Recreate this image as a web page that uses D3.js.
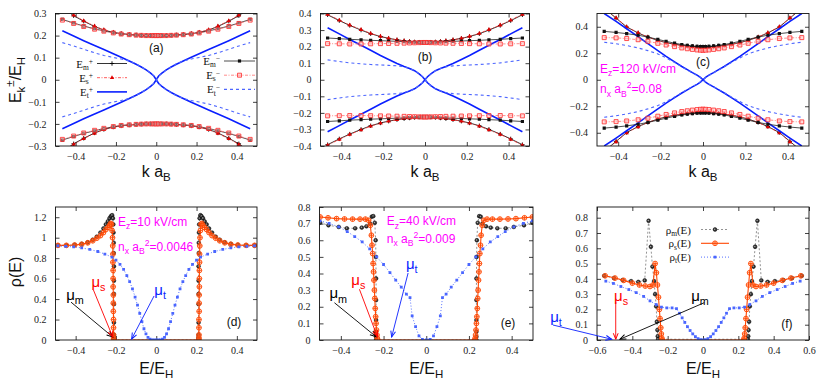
<!DOCTYPE html>
<html>
<head>
<meta charset="utf-8">
<script src="https://cdn.jsdelivr.net/npm/d3@7/dist/d3.min.js"></script>
<style>
  html,body{margin:0;padding:0;background:#fff;}
  svg{display:block;}
  text{font-family:"Liberation Sans",Arial,sans-serif;white-space:pre;}
  .tick text{font-family:"Liberation Serif","Times New Roman",serif;font-size:10px;fill:#222;}
  .serif{font-family:"Liberation Serif","Times New Roman",serif;}
</style>
</head>
<body>
<svg id="fig" width="830" height="388" xmlns="http://www.w3.org/2000/svg"></svg>
<script>
// ================= DATA =================
// Top row: dispersion E_k^± / E_H versus k a_B (values for k >= 0; curves are symmetric in k and ±E)
const kGrid = [0, 0.012, 0.028, 0.05, 0.074, 0.1, 0.134, 0.174, 0.213, 0.26, 0.306, 0.36, 0.41, 0.466];

// panel (a)
const aEmPlus  = [0.2,0.2,0.2,0.2,0.201,0.203,0.205,0.209,0.214,0.225,0.241,0.265,0.29,0.327];
const aEsPlus  = [0.2,0.2,0.2,0.2,0.201,0.203,0.205,0.209,0.215,0.226,0.243,0.267,0.293,0.33];
const aEtPlus  = [0,0.017,0.03,0.045,0.058,0.07,0.085,0.102,0.118,0.137,0.155,0.177,0.198,0.222];
const aEmMinus = [0.2,0.2,0.2,0.2,0.201,0.202,0.204,0.207,0.213,0.221,0.231,0.243,0.257,0.273];
const aEsMinus = [0.2,0.2,0.2,0.2,0.201,0.202,0.204,0.207,0.212,0.22,0.229,0.241,0.255,0.27];
const aEtMinus = [0,0.017,0.03,0.045,0.058,0.072,0.085,0.094,0.101,0.11,0.122,0.138,0.153,0.168];
// panel (b)
const bEmPlus  = [0.225,0.225,0.226,0.228,0.231,0.235,0.241,0.25,0.261,0.278,0.3,0.328,0.357,0.392];
const bEsPlus  = [0.225,0.225,0.226,0.228,0.231,0.235,0.241,0.25,0.262,0.28,0.303,0.33,0.36,0.395];
const bEtPlus  = [0,0.018,0.036,0.055,0.068,0.08,0.098,0.122,0.146,0.178,0.208,0.243,0.277,0.314];
const bEmMinus = [0.226,0.226,0.227,0.228,0.229,0.23,0.232,0.234,0.236,0.238,0.241,0.244,0.248,0.252];
const bEsMinus = [0.225,0.225,0.224,0.223,0.222,0.221,0.22,0.219,0.218,0.217,0.216,0.216,0.217,0.218];
const bEtMinus = [0,0.018,0.036,0.055,0.068,0.078,0.084,0.087,0.089,0.092,0.096,0.102,0.11,0.12];
// panel (c)
const cEmPlus  = [0.248,0.248,0.249,0.251,0.255,0.26,0.268,0.28,0.297,0.322,0.353,0.398,0.465,0.54];
const cEsPlus  = [0.245,0.245,0.246,0.249,0.253,0.258,0.266,0.279,0.297,0.323,0.355,0.4,0.468,0.545];
const cEtPlus  = [0,0.018,0.035,0.054,0.076,0.1,0.135,0.176,0.22,0.272,0.325,0.385,0.44,0.5];
const cEmMinus = [0.25,0.25,0.252,0.255,0.26,0.266,0.276,0.29,0.305,0.322,0.336,0.348,0.357,0.365];
const cEsMinus = [0.222,0.223,0.225,0.229,0.234,0.24,0.25,0.262,0.275,0.29,0.302,0.311,0.316,0.318];
const cEtMinus = [0,0.015,0.032,0.052,0.073,0.098,0.13,0.165,0.195,0.22,0.24,0.258,0.272,0.283];

// Bottom row: density of states rho(E) versus E/E_H (E <= 0 half; mirrored to E > 0)
// panel (d)
const dMe = [-0.488,-0.446,-0.405,-0.37,-0.34,-0.315,-0.295,-0.277,-0.262,-0.25,-0.24,-0.232,-0.225,-0.219,-0.215,-0.213,-0.212,-0.211,-0.211,-0.21,-0.21,-0.21,-0.21,-0.21,-0.21,-0.21,-0.21];
const dMr = [0.925,0.925,0.93,0.94,0.955,0.98,1.01,1.05,1.09,1.13,1.16,1.19,1.21,1.22,1.19,1.13,1.05,0.95,0.85,0.72,0.58,0.45,0.35,0.17,0.05,0.02,0];
const dSe = [-0.488,-0.446,-0.405,-0.37,-0.34,-0.315,-0.295,-0.277,-0.262,-0.25,-0.24,-0.232,-0.226,-0.222,-0.219,-0.217,-0.216,-0.215,-0.215,-0.214,-0.214,-0.214,-0.213,-0.213,-0.213,-0.212,-0.212,-0.212,-0.212,-0.212];
const dSr = [0.925,0.925,0.928,0.935,0.95,0.97,0.995,1.02,1.05,1.08,1.1,1.12,1.14,1.13,1.07,1.0,0.92,0.84,0.76,0.68,0.6,0.52,0.44,0.36,0.28,0.2,0.12,0.05,0.02,0];
const dTe = [-0.488,-0.45,-0.41,-0.37,-0.33,-0.29,-0.255,-0.22,-0.2,-0.18,-0.162,-0.146,-0.132,-0.118,-0.105,-0.093,-0.082,-0.071,-0.061,-0.051,-0.041,-0.031,-0.021,-0.011,0];
const dTr = [0.92,0.915,0.91,0.9,0.885,0.865,0.84,0.81,0.78,0.74,0.69,0.63,0.57,0.5,0.42,0.34,0.26,0.18,0.11,0.06,0.025,0.008,0.002,0,0];
// panel (e)
const eMe = [-0.497,-0.458,-0.41,-0.372,-0.333,-0.302,-0.28,-0.263,-0.255,-0.248,-0.241,-0.237,-0.236,-0.235,-0.235,-0.235,-0.235,-0.235,-0.235];
const eMr = [0.706,0.69,0.68,0.672,0.672,0.676,0.684,0.7,0.742,0.745,0.705,0.6,0.5,0.37,0.24,0.12,0.05,0.02,0];
const eSe = [-0.497,-0.46,-0.42,-0.383,-0.345,-0.31,-0.285,-0.27,-0.262,-0.257,-0.254,-0.251,-0.249,-0.247,-0.245,-0.243,-0.241,-0.239,-0.237,-0.235,-0.233,-0.231,-0.229,-0.228];
const eSr = [0.74,0.735,0.73,0.728,0.727,0.727,0.727,0.72,0.69,0.63,0.57,0.52,0.46,0.41,0.36,0.3,0.25,0.19,0.14,0.1,0.06,0.03,0.01,0];
const eTe = [-0.497,-0.455,-0.41,-0.37,-0.335,-0.3,-0.265,-0.232,-0.2,-0.17,-0.143,-0.117,-0.093,-0.076,-0.066,-0.05,-0.034,-0.018,0];
const eTr = [0.716,0.702,0.68,0.652,0.622,0.59,0.548,0.5,0.454,0.405,0.36,0.318,0.276,0.255,0.145,0.08,0.025,0.004,0];
// panel (f)
const fMe = [-0.559,-0.504,-0.455,-0.407,-0.366,-0.33,-0.308,-0.295,-0.286,-0.277,-0.271,-0.265,-0.261,-0.258,-0.256,-0.254];
const fMr = [0.42,0.405,0.392,0.385,0.38,0.39,0.78,0.61,0.48,0.385,0.3,0.22,0.12,0.065,0.025,0.005];
const fSe = [-0.554,-0.498,-0.449,-0.4,-0.36,-0.327,-0.3,-0.283,-0.271,-0.264,-0.258,-0.252,-0.247,-0.243,-0.239,-0.236,-0.233,-0.231];
const fSr = [0.42,0.405,0.39,0.372,0.36,0.353,0.35,0.36,0.5,0.44,0.36,0.28,0.2,0.14,0.08,0.04,0.012,0];
const fTe = [-0.55,-0.507,-0.465,-0.42,-0.378,-0.336,-0.3,-0.265,-0.235,-0.205,-0.175,-0.15,-0.133,-0.118,-0.103,-0.088,-0.073,-0.058,-0.043,-0.028,-0.013,0];
const fTr = [0.385,0.37,0.35,0.33,0.31,0.285,0.256,0.232,0.215,0.21,0.21,0.205,0.175,0.145,0.115,0.087,0.062,0.04,0.022,0.009,0.002,0];

// tick values
const xTicksK   = [-0.4,-0.2,0,0.2,0.4];
const yTicksA   = [-0.3,-0.2,-0.1,0,0.1,0.2,0.3];
const yTicksB   = [-0.4,-0.3,-0.2,-0.1,0,0.1,0.2,0.3,0.4];
const yTicksC   = [-0.4,-0.2,0,0.2,0.4];
const xTicksDE  = [-0.4,-0.2,0,0.2,0.4];
const xTicksF   = [-0.6,-0.4,-0.2,0,0.2,0.4,0.6];
const yTicksD   = [0,0.2,0.4,0.6,0.8,1,1.2];
const yTicksEF  = [0,0.1,0.2,0.3,0.4,0.5,0.6,0.7,0.8];

// ================= DRAWING =================
const svg = d3.select('#fig');
const defs = svg.append('defs');
const fmt = v => Math.abs(v) < 1e-9 ? '0' : d3.format('')(+v.toFixed(2));

function rich(parent, parts, size, subOff = 0.28, supOff = 0.42, small = 0.72) {
  const t = parent.append('text').attr('font-size', size);
  let cur = 0;
  for (const [s, m] of parts) {
    const off = m === 'sub' ? subOff * size : (m === 'sup' ? -supOff * size : 0);
    t.append('tspan').attr('dy', (off - cur).toFixed(2))
      .attr('font-size', m === 'n' ? size : (small * size).toFixed(2)).text(s);
    cur = off;
  }
  return t;
}

function makePanel(id, box, xd, yd, xt, yt) {
  const x = d3.scaleLinear().domain(xd).range([box.x0, box.x1]);
  const y = d3.scaleLinear().domain(yd).range([box.y1, box.y0]);
  const g = svg.append('g').attr('color', '#111');
  defs.append('clipPath').attr('id', 'clip-' + id).append('rect')
    .attr('x', box.x0).attr('y', box.y0).attr('width', box.x1 - box.x0).attr('height', box.y1 - box.y0);
  g.append('g').attr('transform', `translate(0,${box.y1})`)
    .call(d3.axisBottom(x).tickValues(xt).tickSize(-4).tickPadding(7).tickFormat(fmt));
  g.append('g').attr('transform', `translate(0,${box.y0})`)
    .call(d3.axisTop(x).tickValues(xt).tickSize(-4).tickFormat(''));
  g.append('g').attr('transform', `translate(${box.x0},0)`)
    .call(d3.axisLeft(y).tickValues(yt).tickSize(-4).tickPadding(9).tickFormat(fmt));
  g.append('g').attr('transform', `translate(${box.x1},0)`)
    .call(d3.axisRight(y).tickValues(yt).tickSize(-4).tickFormat(''));
  g.selectAll('.domain').remove();
  g.selectAll('.tick line').attr('stroke-width', 0.8);
  const plot = svg.append('g').attr('clip-path', `url(#clip-${id})`);
  svg.append('rect').attr('x', box.x0).attr('y', box.y0).attr('width', box.x1 - box.x0)
    .attr('height', box.y1 - box.y0).attr('fill', 'none').attr('stroke', '#111').attr('stroke-width', 0.9);
  return {x, y, plot, box};
}

function marker(g, type, cx, cy) {
  const t = `translate(${cx.toFixed(2)},${cy.toFixed(2)})`;
  switch (type) {
    case 'plus':
      g.append('path').attr('transform', t).attr('d', 'M-2.2,0H2.2M0,-2.2V2.2').attr('stroke', '#000').attr('stroke-width', 0.9); break;
    case 'tri':
      g.append('path').attr('transform', t).attr('d', 'M0,-2.5L2.2,1.4H-2.2Z').attr('fill', '#e00000'); break;
    case 'sqf':
      g.append('path').attr('transform', t).attr('d', 'M-1.6,-1.6h3.2v3.2h-3.2Z').attr('fill', '#111'); break;
    case 'sqo':
      g.append('path').attr('transform', t).attr('d', 'M-2,-2h4v4h-4Z').attr('fill', 'rgba(255,190,190,0.5)').attr('stroke', '#ff2a2a').attr('stroke-width', 0.8); break;
    case 'circ':
      g.append('circle').attr('cx', cx).attr('cy', cy).attr('r', 1.9).attr('fill', '#333').attr('stroke', '#000').attr('stroke-width', 0.5);
      g.append('circle').attr('cx', cx - 0.3).attr('cy', cy - 0.3).attr('r', 0.7).attr('fill', '#aaa'); break;
    case 'oplus':
      g.append('circle').attr('cx', cx).attr('cy', cy).attr('r', 2.4).attr('fill', 'rgba(255,170,120,0.3)').attr('stroke', '#ff4500').attr('stroke-width', 0.9);
      g.append('path').attr('transform', t).attr('d', 'M-2.4,0H2.4M0,-2.4V2.4').attr('stroke', '#ff4500').attr('stroke-width', 0.8); break;
    case 'sqs':
      g.append('path').attr('transform', t).attr('d', 'M-1.4,-1.4h2.8v2.8h-2.8Z').attr('fill', '#4a66ff'); break;
  }
}

const topStyles = {
  EmPlus:  {stroke: '#000', width: 0.8, dash: null, marker: 'plus'},
  EsPlus:  {stroke: '#ff3030', width: 0.8, dash: '3,1.5,1,1.5', marker: 'tri'},
  EtPlus:  {stroke: '#0a1fff', width: 1.6, dash: null, marker: null},
  EmMinus: {stroke: '#222', width: 0.8, dash: null, marker: 'sqf'},
  EsMinus: {stroke: '#ff7070', width: 0.8, dash: '3,1.5,1,1.5', marker: 'sqo'},
  EtMinus: {stroke: '#4d66ff', width: 1.1, dash: '3,3', marker: null}
};
const dosStyles = {
  m: {stroke: '#777', width: 0.8, dash: '2,2', marker: 'circ'},
  s: {stroke: '#ff4500', width: 1.1, dash: null, marker: 'oplus'},
  t: {stroke: '#5570ff', width: 1, dash: '1,2', marker: 'sqs'}
};

function drawBand(P, vals, st) {
  const ks = kGrid.slice().reverse().map(k => -k).concat(kGrid.slice(1));
  const es = vals.slice().reverse().concat(vals.slice(1));
  [1, -1].forEach(sg => {
    const pts = ks.map((k, i) => [k, sg * es[i]]);
    const p = P.plot.append('path')
      .attr('d', d3.line().x(d => P.x(d[0])).y(d => P.y(d[1]))(pts))
      .attr('fill', 'none').attr('stroke', st.stroke).attr('stroke-width', st.width);
    if (st.dash) p.attr('stroke-dasharray', st.dash);
    if (st.marker) pts.forEach(d => marker(P.plot, st.marker, P.x(d[0]), P.y(d[1])));
  });
}

function drawDos(P, Eh, Rh, st) {
  const E = Eh.slice(), R = Rh.slice();
  for (let i = Eh.length - 1; i >= 0; i--) {
    if (Eh[i] === 0) continue;
    E.push(-Eh[i]); R.push(Rh[i]);
  }
  const pts = E.map((e, i) => [e, R[i]]);
  const p = P.plot.append('path')
    .attr('d', d3.line().x(d => P.x(d[0])).y(d => P.y(d[1]))(pts))
    .attr('fill', 'none').attr('stroke', st.stroke).attr('stroke-width', st.width);
  if (st.dash) p.attr('stroke-dasharray', st.dash);
  pts.forEach(d => marker(P.plot, st.marker, P.x(d[0]), P.y(d[1])));
}

// layout boxes
const boxA = {x0: 55.5, x1: 257, y0: 13.5, y1: 146};
const boxB = {x0: 320.5, x1: 529.5, y0: 13.5, y1: 146};
const boxC = {x0: 597, x1: 809, y0: 13.5, y1: 146};
const boxD = {x0: 55.5, x1: 257, y0: 207, y1: 340};
const boxE = {x0: 319.5, x1: 533, y0: 207, y1: 340};
const boxF = {x0: 597, x1: 809, y0: 207, y1: 340};

const PA = makePanel('a', boxA, [-0.5, 0.5], [-0.3, 0.3], xTicksK, yTicksA);
const PB = makePanel('b', boxB, [-0.5, 0.5], [-0.4, 0.4], xTicksK, yTicksB);
const PC = makePanel('c', boxC, [-0.5, 0.5], [-0.5, 0.5], xTicksK, yTicksC);
const PD = makePanel('d', boxD, [-0.5, 0.5], [0, 1.3], xTicksDE, yTicksD);
const PE = makePanel('e', boxE, [-0.5, 0.5], [0, 0.8], xTicksDE, yTicksEF);
const PF = makePanel('f', boxF, [-0.6, 0.6], [0, 0.87], xTicksF, yTicksEF);

[[PA, [aEmPlus, aEsPlus, aEtPlus, aEmMinus, aEsMinus, aEtMinus]],
 [PB, [bEmPlus, bEsPlus, bEtPlus, bEmMinus, bEsMinus, bEtMinus]],
 [PC, [cEmPlus, cEsPlus, cEtPlus, cEmMinus, cEsMinus, cEtMinus]]].forEach(([P, arr]) => {
  const keys = ['EmPlus', 'EsPlus', 'EtPlus', 'EmMinus', 'EsMinus', 'EtMinus'];
  arr.forEach((v, i) => drawBand(P, v, topStyles[keys[i]]));
});

[[PD, dMe, dMr, dSe, dSr, dTe, dTr], [PE, eMe, eMr, eSe, eSr, eTe, eTr], [PF, fMe, fMr, fSe, fSr, fTe, fTr]]
  .forEach(([P, me, mr, se, sr, te, tr]) => {
    drawDos(P, me, mr, dosStyles.m);
    drawDos(P, se, sr, dosStyles.s);
    drawDos(P, te, tr, dosStyles.t);
  });

// axis titles
[PA, PB, PC].forEach(P => {
  rich(svg, [['k a', 'n'], ['B', 'sub']], 16).attr('text-anchor', 'middle')
    .attr('x', (P.box.x0 + P.box.x1) / 2).attr('y', 177).attr('fill', '#111');
});
[PD, PE, PF].forEach(P => {
  rich(svg, [['E/E', 'n'], ['H', 'sub']], 16).attr('text-anchor', 'middle')
    .attr('x', (P.box.x0 + P.box.x1) / 2).attr('y', 374).attr('fill', '#111');
});
rich(svg, [['E', 'n'], ['k', 'sub'], ['\u00b1', 'sup'], ['/E', 'n'], ['H', 'sub']], 16)
  .attr('text-anchor', 'middle').attr('transform', 'translate(21,80) rotate(-90)').attr('fill', '#111');
rich(svg, [['\u03c1(E)', 'n']], 16)
  .attr('text-anchor', 'middle').attr('transform', 'translate(21,272) rotate(-90)').attr('fill', '#111');

// panel labels (data coordinates)
const panelLabels = [[PA, '(a)', 0, 0.126], [PB, '(b)', 0, 0.113], [PC, '(c)', 0, 0.104],
                     [PD, '(d)', 0.386, 0.137], [PE, '(e)', 0.383, 0.078], [PF, '(f)', 0.475, 0.078]];
panelLabels.forEach(([P, s, xv, yv]) => {
  svg.append('text').attr('x', P.x(xv)).attr('y', P.y(yv)).attr('text-anchor', 'middle')
    .attr('font-size', 12).attr('fill', '#111').text(s);
});

// magenta parameter texts (data coordinates)
const paramTexts = [
  [PC, -0.486, 0.053, [['E', 'n'], ['z', 'sub'], ['=120 kV/cm', 'n']]],
  [PC, -0.486, -0.102, [['n', 'n'], ['x', 'sub'], [' a', 'n'], ['B', 'sub'], ['2', 'sup'], ['=0.08', 'n']]],
  [PD, -0.19, 1.114, [['E', 'n'], ['z', 'sub'], ['=10 kV/cm', 'n']]],
  [PD, -0.19, 0.87, [['n', 'n'], ['x', 'sub'], [' a', 'n'], ['B', 'sub'], ['2', 'sup'], ['=0.0046', 'n']]],
  [PE, -0.185, 0.69, [['E', 'n'], ['z', 'sub'], ['=40 kV/cm', 'n']]],
  [PE, -0.185, 0.585, [['n', 'n'], ['x', 'sub'], [' a', 'n'], ['B', 'sub'], ['2', 'sup'], ['=0.009', 'n']]]
];
paramTexts.forEach(([P, xv, yv, parts]) => {
  rich(svg, parts, 12).attr('x', P.x(xv)).attr('y', P.y(yv)).attr('fill', '#ff00ff');
});

// chemical-potential annotations (data coordinates)
['#000', '#ff0000', '#0a1fff'].forEach((c, i) => {
  defs.append('marker').attr('id', 'ah' + i).attr('viewBox', '-7 -4 8 8').attr('refX', 0).attr('refY', 0)
    .attr('markerWidth', 8).attr('markerHeight', 8).attr('markerUnits', 'userSpaceOnUse').attr('orient', 'auto')
    .append('path').attr('d', 'M-6,-2.4L0,0L-6,2.4').attr('fill', 'none').attr('stroke', c).attr('stroke-width', 1);
});
const muNotes = [
  // panel, subscript, colour index, text pos, arrow from, arrow to
  [PD, 'm', 0, [-0.403, 0.39], [-0.423, 0.37], [-0.216, 0.03]],
  [PD, 's', 1, [-0.287, 0.52], [-0.312, 0.49], [-0.216, 0.03]],
  [PD, 't', 2, [0.019, 0.44], [-0.011, 0.43], [-0.122, 0.01]],
  [PE, 'm', 0, [-0.412, 0.25], [-0.43, 0.224], [-0.235, 0.02]],
  [PE, 's', 1, [-0.318, 0.33], [-0.313, 0.305], [-0.229, 0.02]],
  [PE, 't', 2, [-0.068, 0.427], [-0.085, 0.403], [-0.162, 0.018]],
  [PF, 't', 2, [-0.832, 0.118], [-0.849, 0.098], [-0.517, 0.005]],
  [PF, 's', 1, [-0.464, 0.255], [-0.494, 0.25], [-0.494, 0.005]],
  [PF, 'm', 0, [-0.017, 0.255], [0.007, 0.244], [-0.47, 0.005]]
];
const muColors = ['#000', '#ff0000', '#0a1fff'];
muNotes.forEach(([P, sub, ci, tp, from, to]) => {
  svg.append('line').attr('x1', P.x(from[0])).attr('y1', P.y(from[1]))
    .attr('x2', P.x(to[0])).attr('y2', P.y(to[1]))
    .attr('stroke', muColors[ci]).attr('stroke-width', 0.9).attr('marker-end', `url(#ah${ci})`);
  rich(svg, [['\u03bc', 'n'], [sub, 'sub']], 15).attr('text-anchor', 'middle')
    .attr('x', P.x(tp[0])).attr('y', P.y(tp[1])).attr('fill', muColors[ci]);
});

// legend for panel (a)
const legA = [
  [['m', '+'], 'EmPlus', 93, 97, 127, 63.5],
  [['s', '+'], 'EsPlus', 93, 97, 127, 77.7],
  [['t', '+'], 'EtPlus', 93, 97, 127, 91.9],
  [['m', '\u2212'], 'EmMinus', 220, 224, 255, 61],
  [['s', '\u2212'], 'EsMinus', 220, 224, 255, 75.2],
  [['t', '\u2212'], 'EtMinus', 220, 224, 255, 89.4]
];
legA.forEach(([lab, key, tx, lx0, lx1, ly]) => {
  const st = topStyles[key];
  rich(svg, [['E', 'n'], [lab[0], 'sub'], [lab[1], 'sup']], 11, 0.2, 0.33, 0.68).attr('class', 'serif')
    .attr('text-anchor', 'end').attr('x', tx).attr('y', ly + 4).attr('fill', '#111');
  const l = svg.append('line').attr('x1', lx0).attr('x2', lx1).attr('y1', ly).attr('y2', ly)
    .attr('stroke', st.stroke).attr('stroke-width', st.width);
  if (st.dash) l.attr('stroke-dasharray', st.dash);
  if (st.marker) marker(svg, st.marker, (lx0 + lx1) / 2, ly);
});

// legend for panel (f)
const legF = [['m', 'm', 229.5], ['s', 's', 243.3], ['t', 't', 257.1]];
legF.forEach(([sub, key, ly]) => {
  const st = dosStyles[key];
  rich(svg, [['\u03c1', 'n'], [sub, 'sub'], ['(E)', 'n']], 11, 0.2, 0.33, 0.68).attr('class', 'serif')
    .attr('text-anchor', 'end').attr('x', 691).attr('y', ly + 4).attr('fill', '#111');
  const l = svg.append('line').attr('x1', 701).attr('x2', 729).attr('y1', ly).attr('y2', ly)
    .attr('stroke', st.stroke).attr('stroke-width', st.width);
  if (st.dash) l.attr('stroke-dasharray', st.dash);
  marker(svg, st.marker, 715, ly);
});
</script>
</body>
</html>
